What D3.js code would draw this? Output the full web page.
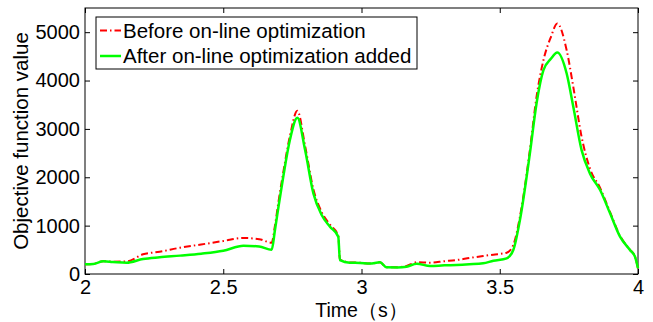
<!DOCTYPE html>
<html>
<head>
<meta charset="utf-8">
<script src="https://cdn.jsdelivr.net/npm/d3@7"></script>
<style>
  body { margin: 0; background: #fff; }
  text { font-family: "Liberation Sans", Arial, sans-serif; fill: #000; }
</style>
</head>
<body>
<div id="chart-area"></div>
<script>
// time samples (s)
const times = [2.00, 2.03, 2.066, 2.10, 2.15, 2.21, 2.27, 2.344, 2.42, 2.50, 2.573, 2.63, 2.675,
  2.687, 2.70, 2.717, 2.741, 2.768, 2.796, 2.826, 2.856, 2.886, 2.916, 2.922, 2.958, 2.995,
  3.03, 3.067, 3.09, 3.13, 3.163, 3.20, 3.248, 3.30, 3.344, 3.39, 3.44, 3.477, 3.525, 3.549,
  3.573, 3.609, 3.633, 3.658, 3.685, 3.708, 3.742, 3.766, 3.796, 3.826, 3.863, 3.899, 3.935,
  3.971, 3.989, 4.0];

const before = [200, 210, 265, 255, 260, 407, 460, 544, 610, 682, 744, 720, 647,
  1000, 1500, 2100, 2850, 3375, 2650, 1750, 1280, 1020, 790, 300, 240, 232,
  215, 242, 140, 140, 165, 242, 234, 265, 289, 330, 372, 400, 441, 599,
  1185, 2562, 3663, 4421, 4900, 5180, 4628, 3870, 2837, 2183, 1780, 1280, 790,
  500, 360, 118];

const after = [200, 205, 262, 250, 234, 310, 345, 380, 420, 481, 585, 570, 500,
  909, 1400, 2011, 2770, 3230, 2562, 1667, 1219, 978, 771, 289, 234, 230,
  215, 242, 138, 135, 151, 213, 165, 180, 186, 200, 221, 275, 324, 496,
  1116, 2493, 3526, 4215, 4450, 4580, 4146, 3457, 2562, 2080, 1736, 1254, 771,
  496, 358, 118];

const xTicks = [2, 2.5, 3, 3.5, 4];
const yTicks = [0, 1000, 2000, 3000, 4000, 5000];
const seriesNames = ['Before on-line optimization', 'After on-line optimization added'];

const margin = { left: 85, right: 15, top: 8, bottom: 48 };
const width = 653 - margin.left - margin.right;
const height = 322 - margin.top - margin.bottom;

const svg = d3.select('#chart-area').append('svg')
  .attr('width', 653)
  .attr('height', 322);

const chart = svg.append('g')
  .attr('transform', `translate(${margin.left},${margin.top})`);

const x = d3.scaleLinear().domain([2, 4]).range([0, width]);
const y = d3.scaleLinear().domain([0, 5500]).range([height, 0]);

// axes, ticks pointing inward like MATLAB
chart.append('g')
  .attr('transform', `translate(0,${height})`)
  .call(d3.axisBottom(x).tickValues(xTicks).tickFormat(d3.format('')).tickSize(-5).tickPadding(6))
  .call(g => g.select('.domain').remove());

chart.append('g')
  .call(d3.axisTop(x).tickValues(xTicks).tickSize(-5).tickFormat(''))
  .call(g => g.select('.domain').remove());

chart.append('g')
  .call(d3.axisLeft(y).tickValues(yTicks).tickFormat(d3.format('d')).tickSize(-5).tickPadding(5))
  .call(g => g.select('.domain').remove());

chart.append('g')
  .attr('transform', `translate(${width},0)`)
  .call(d3.axisRight(y).tickValues(yTicks).tickSize(-5).tickFormat(''))
  .call(g => g.select('.domain').remove());

chart.selectAll('.tick text').attr('font-size', '20px')
  .style('font-family', '"Liberation Sans", Arial, sans-serif');
chart.selectAll('.tick line').attr('stroke', '#000');

chart.append('rect')
  .attr('width', width)
  .attr('height', height)
  .attr('fill', 'none')
  .attr('stroke', '#000')
  .attr('stroke-width', 1);

// lines
const line = vals => d3.line()
  .x((d, i) => x(times[i]))
  .y(d => y(d))
  .curve(d3.curveMonotoneX)(vals);

chart.append('path')
  .attr('d', line(before))
  .attr('fill', 'none')
  .attr('stroke', '#ff0000')
  .attr('stroke-width', 2)
  .attr('stroke-dasharray', '7,3,1.5,3');

chart.append('path')
  .attr('d', line(after))
  .attr('fill', 'none')
  .attr('stroke', '#00ff00')
  .attr('stroke-width', 2.5);

// legend
const legend = chart.append('g').attr('transform', 'translate(11,9)');
legend.append('rect')
  .attr('width', 321)
  .attr('height', 52)
  .attr('fill', '#fff')
  .attr('stroke', '#000');

const styles = [
  { color: '#ff0000', dash: '7,3,1.5,3', w: 2 },
  { color: '#00ff00', dash: null, w: 2.5 }
];

seriesNames.forEach((name, i) => {
  const row = legend.append('g').attr('transform', `translate(0,${13.5 + i * 25.5})`);
  row.append('line')
    .attr('x1', 4).attr('x2', 25)
    .attr('stroke', styles[i].color)
    .attr('stroke-width', styles[i].w)
    .attr('stroke-dasharray', styles[i].dash);
  row.append('text')
    .attr('x', 27)
    .attr('dy', '0.35em')
    .attr('font-size', '20.5px')
    .text(name);
});

// axis labels
svg.append('text')
  .attr('x', margin.left + width / 2)
  .attr('y', 317)
  .attr('font-size', '19.5px')
  .attr('text-anchor', 'middle')
  .text('Time（s）');

svg.append('text')
  .attr('transform', `translate(28,${margin.top + height / 2}) rotate(-90)`)
  .attr('font-size', '20.5px')
  .attr('text-anchor', 'middle')
  .text('Objective function value');
</script>
</body>
</html>
